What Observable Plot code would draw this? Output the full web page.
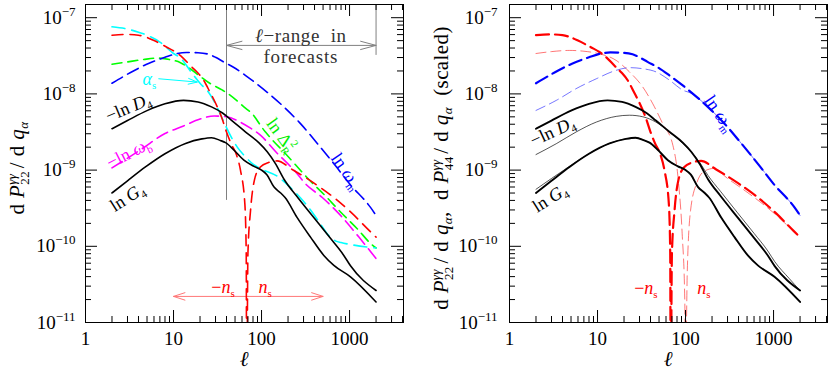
<!DOCTYPE html>
<html><head><meta charset="utf-8">
<script src="https://cdn.jsdelivr.net/npm/d3@7"></script>
<script src="https://cdn.jsdelivr.net/npm/@observablehq/plot@0.6"></script>
<style>
html,body{margin:0;padding:0;background:#fff;}
#wrap{display:flex;width:830px;height:371px;overflow:hidden;}
#wrap svg{display:block;flex:none;}
</style></head><body><div id="wrap"></div>
<script>
// ---------- data (multipole l, derivative values) ----------
const lAlphaS = [2,3,4,5,7,10,12,16,20,25,30,36,45,53,65,80,97,151,200,316,450,560,700,800,1000,2000];
const vAlphaS = [7.59e-8,7.08e-8,6.46e-8,5.89e-8,4.79e-8,3.39e-8,2.95e-8,1.91e-8,1.38e-8,1.05e-8,7.41e-9,4.68e-9,2.75e-9,2.0e-9,1.51e-9,1.2e-9,1.05e-9,8.3e-10,6.3e-10,3.63e-10,2.09e-10,1.45e-10,1.17e-10,1.12e-10,1.06e-10,9.5e-11];

const lNs = [2,3,4,5,6,8.5,10.5,12.6,15.6,18.7,22,26,30,35,40,45,52,57.6,64.6,67,67.6,68.2,70,75,83,97,120,150,223,391,692,1070,1700,2000];
const vNs = [5.89e-8,6.03e-8,5.89e-8,5.5e-8,5.01e-8,4.07e-8,3.55e-8,3.02e-8,2.34e-8,1.91e-8,1.51e-8,1.05e-8,7.59e-9,5.01e-9,3.16e-9,2.24e-9,1.58e-9,1.0e-9,3.63e-10,7.9e-11,3e-12,3e-12,7.9e-11,2.95e-10,7.4e-10,1.1e-9,1.26e-9,1.32e-9,1.02e-9,6.8e-10,4.2e-10,2.7e-10,1.58e-10,1.32e-10];

const lDeltaR = [2,3,4.5,6.5,9,12,15,19,25,36,42,63,81,101,111,200,330,533,790,1222,1760,2000];
const vDeltaR = [2.45e-8,2.63e-8,2.82e-8,2.95e-8,2.82e-8,2.57e-8,2.19e-8,1.78e-8,1.41e-8,1.12e-8,1.0e-8,6.76e-9,5.25e-9,3.63e-9,3.16e-9,1.51e-9,7.94e-10,4.57e-10,2.82e-10,1.7e-10,1.07e-10,9.5e-11];

const lOmegaM = [2,3.25,5.2,8,11,14,19,25,30,37,48,66,116,179,277,430,700,1000,1730,2000];
const vOmegaM = [1.38e-8,1.91e-8,2.51e-8,3.02e-8,3.39e-8,3.5e-8,3.47e-8,3.31e-8,3.02e-8,2.63e-8,2.24e-8,1.74e-8,1.05e-8,6.76e-9,4.07e-9,2.24e-9,1.12e-9,6.6e-10,3.24e-10,2.54e-10];

const lOmegaB = [2,2.85,4.4,8,13,20,29,40,57,75,97,145,243,316,490,826,1277,2000];
const vOmegaB = [1.07e-9,1.38e-9,1.91e-9,3.02e-9,3.8e-9,4.68e-9,5.13e-9,5.01e-9,4.27e-9,3.55e-9,2.88e-9,1.74e-9,9.5e-10,6.6e-10,4.37e-10,2.4e-10,1.32e-10,6.9e-11];

const lD4 = [2,3,5,8,13,19,27,36,46,66,93,116,145,180,250,390,600,860,1030,2000];
const vD4 = [3.49e-9,4.47e-9,6.03e-9,7.41e-9,8.22e-9,7.85e-9,6.76e-9,5.62e-9,4.47e-9,3.16e-9,2.29e-9,1.74e-9,1.2e-9,7.59e-10,4.57e-10,2.4e-10,1.29e-10,7.59e-11,5.5e-11,2.63e-11];

const lG4 = [2,3,4.8,8,13.7,21,27,34,39,48,63,82,100,115,138,165,185,253,360,510,663,1024,2000];
const vG4 = [5.01e-10,7.24e-10,1.1e-9,1.64e-9,2.24e-9,2.57e-9,2.66e-9,2.45e-9,2.29e-9,1.86e-9,1.35e-9,1.12e-9,1.0e-9,8.7e-10,6.03e-10,5.01e-10,4.37e-10,2.4e-10,1.32e-10,7.59e-11,5.62e-11,3.98e-11,1.86e-11];

// scaled P44 derivatives (right panel, thin lines)
const lNs44 = [2,3,4.8,7,9.7,16.3,23,32.7,42.5,55,72,83,91.5,98,99.6,100.6,104.5,114,135,161,208,300,500,1000,2000];
const vNs44 = [3.39e-8,3.59e-8,3.72e-8,3.63e-8,3.43e-8,2.75e-8,1.95e-8,1.23e-8,7.41e-9,4.07e-9,2.09e-9,7.08e-10,1.48e-10,2e-11,3e-12,3e-12,4.37e-11,2.95e-10,6.92e-10,9.55e-10,1.05e-9,7.76e-10,5.13e-10,2.75e-10,1.29e-10];

const lOmegaM44 = [2,3.4,5.7,9.7,16.3,23,32.7,46,66,93,116,179,277,430,700,1000,1730,2000];
const vOmegaM44 = [6.07e-9,8.22e-9,1.17e-8,1.58e-8,2.04e-8,2.21e-8,2.14e-8,1.95e-8,1.51e-8,1.12e-8,1.02e-8,6.76e-9,4.07e-9,2.24e-9,1.12e-9,6.6e-10,3.24e-10,2.54e-10];

const lD444 = [2,3.4,5.7,9.7,16.3,23,32.7,46,66,93,116,145,180,250,390,600,860,1030,1500,2000];
const vD444 = [1.6e-9,2.22e-9,3.16e-9,4.27e-9,5.07e-9,5.25e-9,5.01e-9,4.27e-9,3.16e-9,2.24e-9,1.74e-9,1.26e-9,8.5e-10,5.25e-10,2.75e-10,1.48e-10,8.7e-11,6.3e-11,3.8e-11,2.63e-11];

const lG444 = [2,3,4.8,8,13.7,21,27,34,39,48,63,82,100,115,138,165,185,253,360,510,663,1024,2000];
const vG444 = [5.6e-10,7.76e-10,1.12e-9,1.64e-9,2.24e-9,2.57e-9,2.66e-9,2.45e-9,2.29e-9,1.86e-9,1.35e-9,1.12e-9,1.0e-9,8.7e-10,6.03e-10,5.01e-10,4.37e-10,2.4e-10,1.32e-10,7.59e-11,5.62e-11,3.98e-11,1.86e-11];

// axis ticks
const xMajor = [1,10,100,1000];
const yMajor = [1e-11,1e-10,1e-9,1e-8,1e-7];

// ---------- layout ----------
const W = 415, H = 371, MT = 4, MB = 49;
const XDOM = [1, 4100], YDOM = [1e-11, 1.49e-7];
const SERIF = "Liberation Serif, DejaVu Serif, serif";

const xMinor = [], yMinor = [];
for (const d of [1,10,100,1000]) for (let k = 2; k <= 9; k++) if (d*k <= XDOM[1]) xMinor.push(d*k);
for (const e of [-11,-10,-9,-8]) for (let k = 2; k <= 9; k++) yMinor.push(k*Math.pow(10,e));

const SUP = {"-":"⁻","0":"⁰","1":"¹","2":"²","3":"³","4":"⁴","5":"⁵","6":"⁶","7":"⁷","8":"⁸","9":"⁹"};
const fmtPow = d => "10" + String(Math.round(Math.log10(d))).split("").map(c => SUP[c]).join("");

function frameTicks(FW, FH) {
  return [
    Plot.tickX(xMinor, {x: d => d, insetTop: FH - 6, stroke: "black"}),
    Plot.tickX(xMinor, {x: d => d, insetBottom: FH - 6, stroke: "black"}),
    Plot.tickX(xMajor, {x: d => d, insetTop: FH - 12, stroke: "black"}),
    Plot.tickX(xMajor, {x: d => d, insetBottom: FH - 12, stroke: "black"}),
    Plot.tickY(yMinor, {y: d => d, insetRight: FW - 6, stroke: "black"}),
    Plot.tickY(yMinor, {y: d => d, insetLeft: FW - 6, stroke: "black"}),
    Plot.tickY(yMajor, {y: d => d, insetRight: FW - 12, stroke: "black"}),
    Plot.tickY(yMajor, {y: d => d, insetLeft: FW - 12, stroke: "black"})
  ];
}

function rich(svg, px, py, rot, color, size, parts, o = {}) {
  const t = d3.select(svg).append("text")
    .attr("transform", `translate(${px},${py}) rotate(${rot})`)
    .attr("text-anchor", o.anchor || "middle")
    .attr("font-family", SERIF).attr("font-size", size).attr("fill", color)
    .style("white-space", "pre");
  if (o.ls) t.attr("letter-spacing", o.ls);
  let first = true;
  for (const p of parts) {
    const s = t.append("tspan").text(p.t);
    const dy = (p.dy || 0) + (first && o.center !== false ? size * 0.35 : 0);
    if (dy) s.attr("dy", dy);
    if (p.dx) s.attr("dx", p.dx);
    if (p.fs) s.attr("font-size", p.fs);
    if (p.i) s.attr("font-style", "italic");
    first = false;
  }
}

function fixPowers(svg) {
  const back = {"⁻":"−","⁰":"0","¹":"1","²":"2","³":"3","⁴":"4","⁵":"5","⁶":"6","⁷":"7","⁸":"8","⁹":"9"};
  svg.querySelectorAll("text").forEach(t => {
    const s = t.textContent;
    if (s.startsWith("10") && s.length > 2 && s.includes("⁻") && t.children.length === 0) {
      const exp = s.slice(2).split("").map(c => back[c] || c).join("");
      t.textContent = "";
      d3.select(t).append("tspan").text("10");
      d3.select(t).append("tspan").attr("font-size", 13).attr("dy", -8).text(exp);
    }
  });
}

function makePanel({ml, mr, curves, annot, labels, title, titleX, yPad}) {
  const FW = W - ml - mr, FH = H - MT - MB;
  const marks = [
    ...annot,
    ...curves.map(c => Plot.line(c.v, {
      x: c.l, y: c.v, stroke: c.stroke, strokeWidth: c.w,
      strokeDasharray: c.dash || null, strokeOpacity: c.op || 1,
      curve: "monotone-x", clip: true
    })),
    ...frameTicks(FW, FH),
    Plot.frame({stroke: "black", strokeWidth: 1}),
    Plot.axisX({ticks: xMajor, tickSize: 0, tickPadding: 9, tickFormat: d => String(d), label: null, fontSize: 19}),
    Plot.axisY({ticks: yMajor, tickSize: 0, tickPadding: yPad, tickFormat: fmtPow, label: null, fontSize: 19})
  ];
  const svg = Plot.plot({
    width: W, height: H, marginLeft: ml, marginRight: mr, marginTop: MT, marginBottom: MB,
    x: {type: "log", domain: XDOM},
    y: {type: "log", domain: YDOM},
    style: {fontFamily: SERIF, background: "white", color: "black"},
    marks
  });
  fixPowers(svg);
  const sx = svg.scale("x"), sy = svg.scale("y");
  for (const lb of labels) {
    rich(svg, sx.apply(lb.l), sy.apply(lb.v), lb.rot, lb.color, lb.size || 18, lb.parts, {ls: lb.ls});
  }
  rich(svg, titleX, 168, -90, "black", 21, title, {center: false, ls: 0.4});
  rich(svg, ml + FW / 2, 366, 0, "black", 21, [{t: "ℓ", i: 1}], {center: false});
  return svg;
}

// ---------- text pieces ----------
const sub = (t, extra = {}) => Object.assign({t, fs: 11, dy: 4}, extra);
const pD4 = [{t: "−ln "}, {t: "D", i: 1}, sub("4")];
const pG4 = [{t: "ln "}, {t: "G", i: 1}, sub("4")];
const pOmegaB = [{t: "−ln "}, {t: "ω", i: 1}, sub("b")];
const pOmegaM = [{t: "ln "}, {t: "ω", i: 1}, sub("m")];
const pDeltaR = [{t: "ln Δ"}, sub("R"), {t: "2", fs: 11, dx: -7, dy: -12}];
const pAlphaS = [{t: "α", i: 1}, sub("s")];
const pMinusNs = [{t: "−"}, {t: "n", i: 1}, sub("s")];
const pNs = [{t: "n", i: 1}, sub("s")];
const pRange = [{t: "ℓ", i: 1}, {t: "−range  in"}];
const pForecasts = [{t: "forecasts"}];

const titleLeft = [{t: "d "}, {t: "P", i: 1}, {t: "22", fs: 13, dy: 5}, {t: "γγ", fs: 13, i: 1, dx: -14, dy: -13},
  {t: " / d ", dy: 8}, {t: "q", i: 1}, {t: "α", fs: 13, i: 1, dy: 4}];
const titleRight = [...titleLeft, {t: ",  d ", dy: -4}, {t: "P", i: 1}, {t: "44", fs: 13, dy: 5},
  {t: "γγ", fs: 13, i: 1, dx: -14, dy: -13}, {t: " / d ", dy: 8}, {t: "q", i: 1}, {t: "α", fs: 13, i: 1, dy: 4},
  {t: "  (scaled)", dy: -4}];

// ---------- annotations ----------
const rangeLines = [{x: 40, y1: 4e-10, y2: 1.49e-7}, {x: 2000, y1: 3.2e-8, y2: 1.49e-7}];
const rangeArrows = [{x1: 283, x2: 40, y: 4.33e-8}, {x1: 283, x2: 2000, y: 4.33e-8}];
const nsArrows = [{x1: 70.7, x2: 10, y: 2.2e-11}, {x1: 70.7, x2: 500, y: 2.2e-11}];
const alphaArrow = [{x1: 6.8, y1: 1.58e-8, x2: 18.6, y2: 1.43e-8}];

const leftCurves = [
  {l: lDeltaR, v: vDeltaR, stroke: "#00ff00", w: 1.6, dash: "10,6"},
  {l: lOmegaB, v: vOmegaB, stroke: "#ff00ff", w: 1.6, dash: "12,6"},
  {l: lOmegaM, v: vOmegaM, stroke: "#0000ff", w: 1.6, dash: "12,6"},
  {l: lAlphaS, v: vAlphaS, stroke: "#00ffff", w: 1.6, dash: "13,7"},
  {l: lNs, v: vNs, stroke: "#ff0000", w: 1.6, dash: "11,7"},
  {l: lD4, v: vD4, stroke: "black", w: 1.6},
  {l: lG4, v: vG4, stroke: "black", w: 1.6}
];
const rightCurves = [
  {l: lNs44, v: vNs44, stroke: "#ff0000", w: 0.9, dash: "10,5", op: 0.6},
  {l: lOmegaM44, v: vOmegaM44, stroke: "#0000ff", w: 0.9, dash: "10,5", op: 0.6},
  {l: lD444, v: vD444, stroke: "black", w: 0.9, op: 0.75},
  {l: lG444, v: vG444, stroke: "black", w: 0.9, op: 0.75},
  {l: lNs, v: vNs, stroke: "#ff0000", w: 2.2, dash: "13,6"},
  {l: lOmegaM, v: vOmegaM, stroke: "#0000ff", w: 2.2, dash: "13,6"},
  {l: lD4, v: vD4, stroke: "black", w: 1.9},
  {l: lG4, v: vG4, stroke: "black", w: 1.9}
];

const leftAnnot = [
  Plot.ruleX(rangeLines, {x: "x", y1: "y1", y2: "y2", stroke: "#808080", strokeWidth: 1}),
  Plot.arrow(rangeArrows, {x1: "x1", x2: "x2", y1: "y", y2: "y", stroke: "#808080", strokeWidth: 1, headLength: 24, headAngle: 30}),
  Plot.arrow(nsArrows, {x1: "x1", x2: "x2", y1: "y", y2: "y", stroke: "#ff7777", strokeWidth: 1, headLength: 18, headAngle: 36}),
  Plot.arrow(alphaArrow, {x1: "x1", x2: "x2", y1: "y1", y2: "y2", stroke: "#00ffff", strokeWidth: 1, headLength: 14, headAngle: 36})
];

const leftLabels = [
  {l: 3.08, v: 6.6e-9, rot: -23, color: "black", parts: pD4},
  {l: 3.0, v: 4.37e-10, rot: -32, color: "black", parts: pG4},
  {l: 3.1, v: 1.66e-9, rot: -27, color: "#ff00ff", parts: pOmegaB},
  {l: 172, v: 2.85e-9, rot: 54, color: "#00ee00", parts: pDeltaR},
  {l: 946, v: 9.6e-10, rot: 55, color: "#0000ff", parts: pOmegaM},
  {l: 5.4, v: 1.55e-8, rot: 0, color: "#00ffff", parts: pAlphaS},
  {l: 37, v: 2.9e-11, rot: 0, color: "#ff0000", parts: pMinusNs},
  {l: 111, v: 2.9e-11, rot: 0, color: "#ff0000", parts: pNs},
  {l: 283, v: 5.86e-8, rot: 0, color: "#333", parts: pRange, size: 19, ls: 0.6},
  {l: 283, v: 3.1e-8, rot: 0, color: "#333", parts: pForecasts, size: 19, ls: 0.8}
];
const rightLabels = [
  {l: 3.1, v: 3.2e-9, rot: -25, color: "black", parts: pD4},
  {l: 2.9, v: 4.27e-10, rot: -32, color: "black", parts: pG4},
  {l: 250, v: 5.5e-9, rot: 55, color: "#0000ff", parts: pOmegaM},
  {l: 35.9, v: 2.8e-11, rot: 0, color: "#ff0000", parts: pMinusNs},
  {l: 164, v: 2.8e-11, rot: 0, color: "#ff0000", parts: pNs}
];

const wrap = document.getElementById("wrap");
wrap.appendChild(makePanel({ml: 85, mr: 12, curves: leftCurves, annot: leftAnnot, labels: leftLabels, title: titleLeft, titleX: 24, yPad: 10}));
wrap.appendChild(makePanel({ml: 94, mr: 3, curves: rightCurves, annot: [], labels: rightLabels, title: titleRight, titleX: 33, yPad: 12}));
</script></body></html>
